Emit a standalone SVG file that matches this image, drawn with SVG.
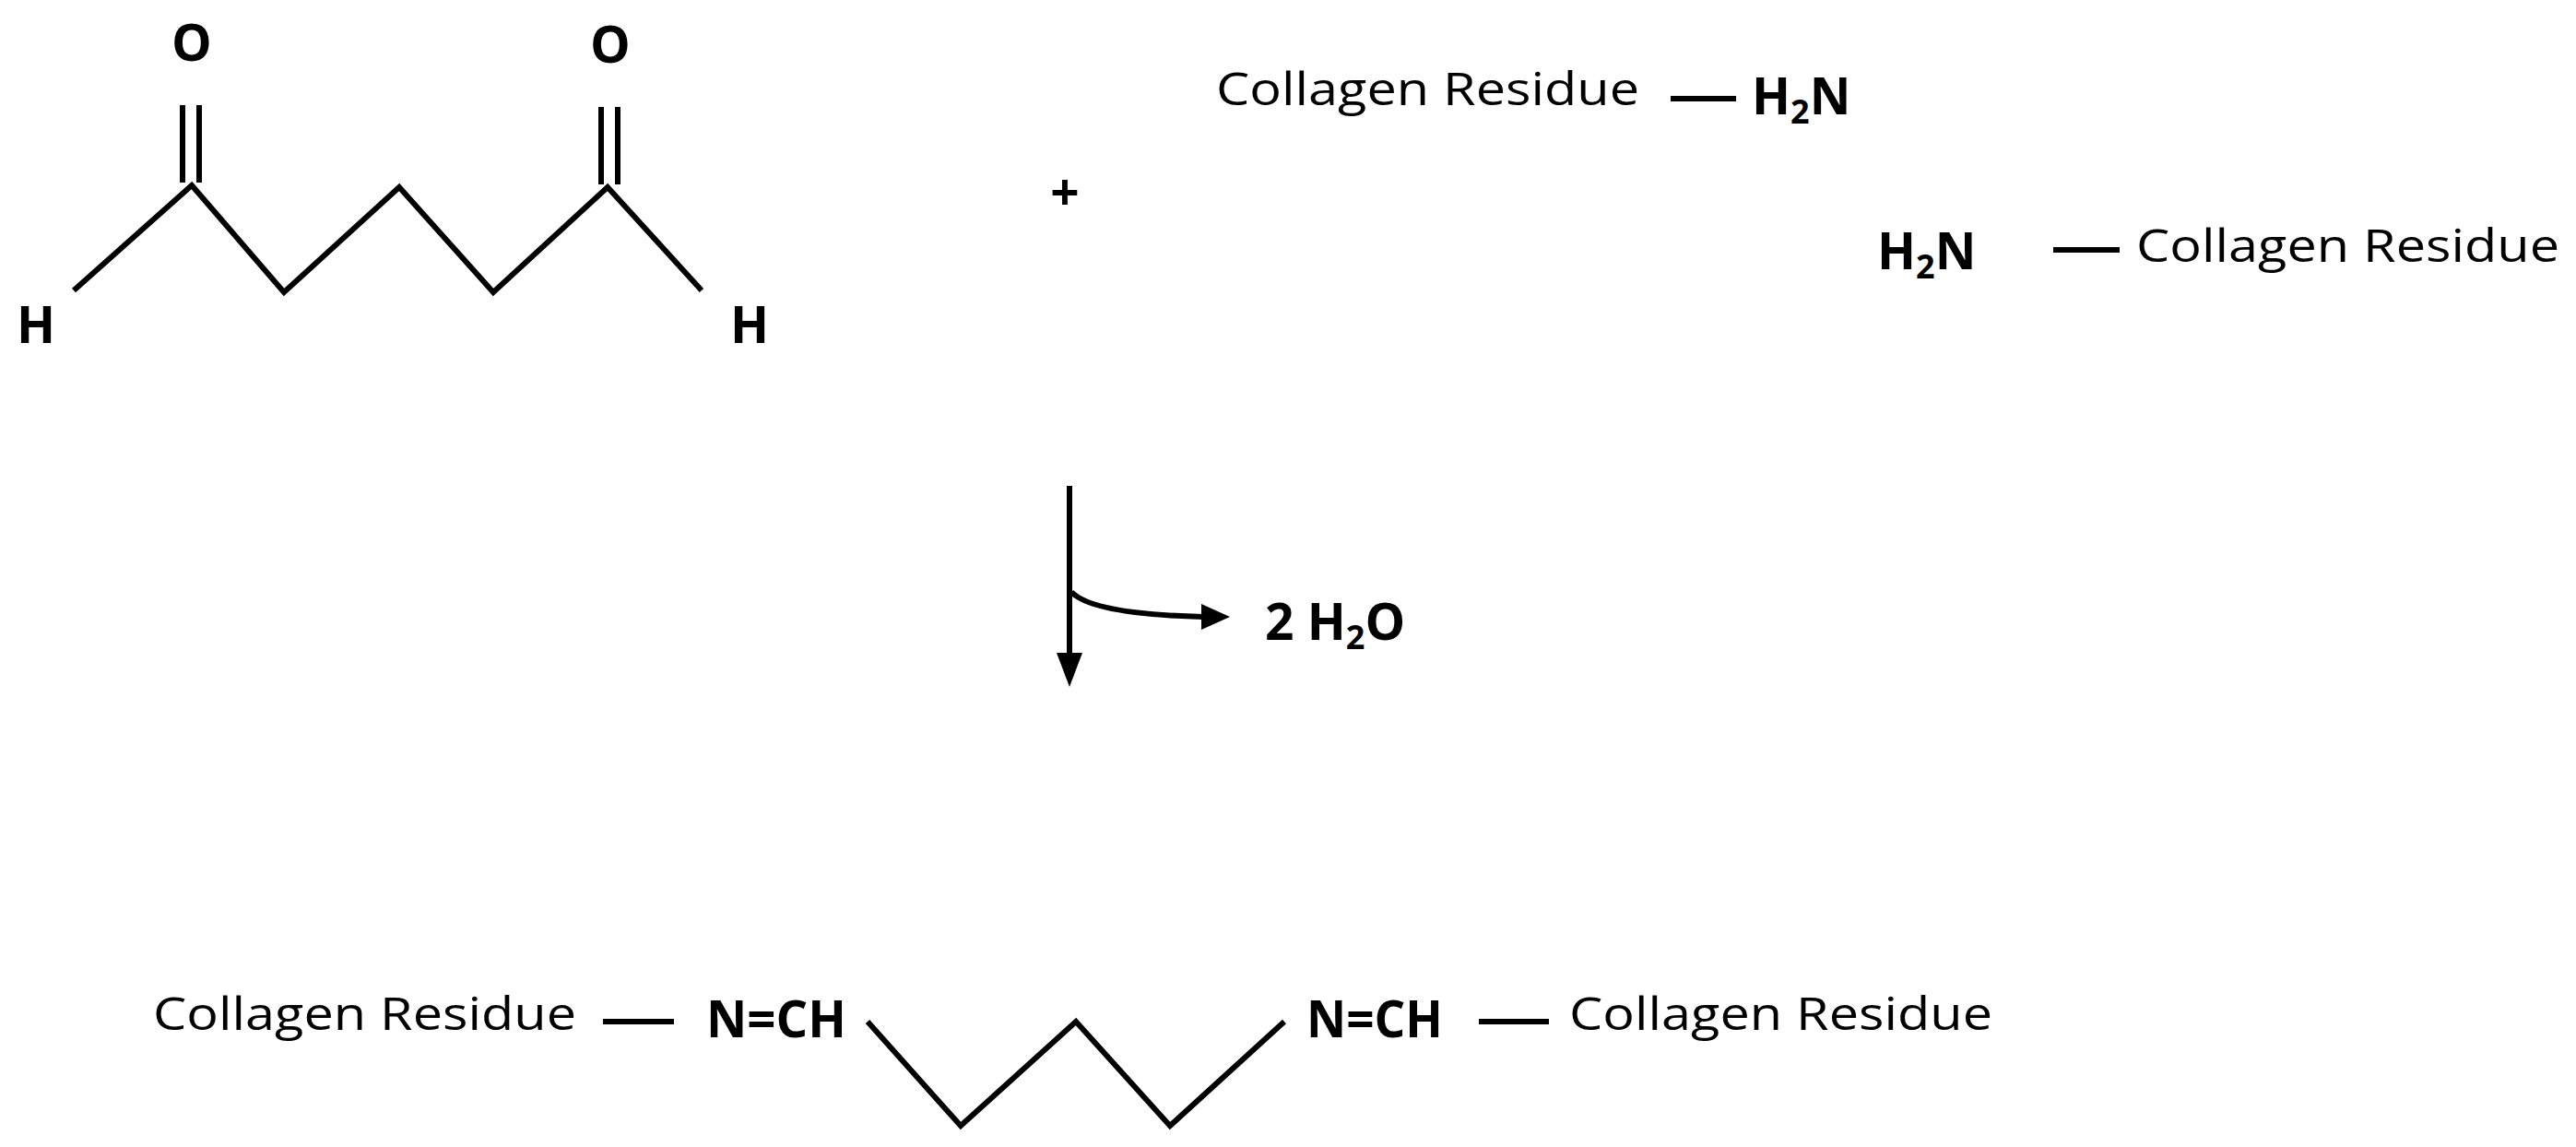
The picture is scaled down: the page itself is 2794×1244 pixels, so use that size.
<svg xmlns="http://www.w3.org/2000/svg" width="2794" height="1244" viewBox="0 0 2794 1244">
<style>
.b{stroke:#000;stroke-width:6;fill:none;stroke-linecap:butt;stroke-linejoin:miter}
.t{font-family:"Open Sans","Liberation Sans",sans-serif;font-size:50px;fill:#000}
.a{font-family:"Open Sans","Liberation Sans",sans-serif;font-size:55px;font-weight:bold;fill:#000}
.s{font-size:36px}
</style>
<rect width="2794" height="1244" fill="#fff"/>
<g id="glutaraldehyde">
<polyline class="b" points="80,315 208,201 308,317 433,203 535,317 659,203 761,315"/>
<line class="b" x1="198" y1="114" x2="198" y2="198"/>
<line class="b" x1="216" y1="114" x2="216" y2="198"/>
<line class="b" x1="652" y1="116" x2="652" y2="200"/>
<line class="b" x1="670" y1="116" x2="670" y2="200"/>
<text class="a" x="208" y="66" text-anchor="middle">O</text>
<text class="a" x="662" y="68" text-anchor="middle">O</text>
<text class="a" x="39" y="372" text-anchor="middle">H</text>
<text class="a" x="813" y="372" text-anchor="middle">H</text>
</g>
<g id="plus"><text class="a" x="1155" y="228" text-anchor="middle">+</text></g>
<g id="amine1">
<text class="t" x="1319" y="114" textLength="459" lengthAdjust="spacingAndGlyphs">Collagen Residue</text>
<line class="b" x1="1812" y1="107" x2="1883" y2="107"/>
<text class="a" x="1900" y="124">H<tspan class="s" dy="10">2</tspan><tspan dy="-10">N</tspan></text>
</g>
<g id="amine2">
<text class="a" x="2036" y="292">H<tspan class="s" dy="10">2</tspan><tspan dy="-10">N</tspan></text>
<line class="b" x1="2227" y1="271" x2="2299" y2="271"/>
<text class="t" x="2317" y="284" textLength="459" lengthAdjust="spacingAndGlyphs">Collagen Residue</text>
</g>
<g id="connectors">
<line class="b" x1="1160" y1="527" x2="1160" y2="715"/>
<path d="M1146,708 L1174,708 L1160,745 Z" fill="#000"/>
<path class="b" d="M1162,642 Q1185,666 1305,669"/>
<path d="M1303,655 L1334,669 L1303,683 Z" fill="#000"/>
</g>
<g id="water"><text class="a" x="1372" y="694">2 H<tspan class="s" dy="10">2</tspan><tspan dy="-10">O</tspan></text></g>
<g id="product">
<text class="t" x="166" y="1117" textLength="459" lengthAdjust="spacingAndGlyphs">Collagen Residue</text>
<line class="b" x1="654" y1="1108" x2="731" y2="1108"/>
<text class="a" x="766" y="1125" textLength="152" lengthAdjust="spacingAndGlyphs">N=CH</text>
<polyline class="b" points="941,1108 1042,1221 1167,1108 1269,1221 1393,1108"/>
<text class="a" x="1417" y="1125" textLength="148" lengthAdjust="spacingAndGlyphs">N=CH</text>
<line class="b" x1="1604" y1="1108" x2="1680" y2="1108"/>
<text class="t" x="1702" y="1117" textLength="459" lengthAdjust="spacingAndGlyphs">Collagen Residue</text>
</g>
</svg>
